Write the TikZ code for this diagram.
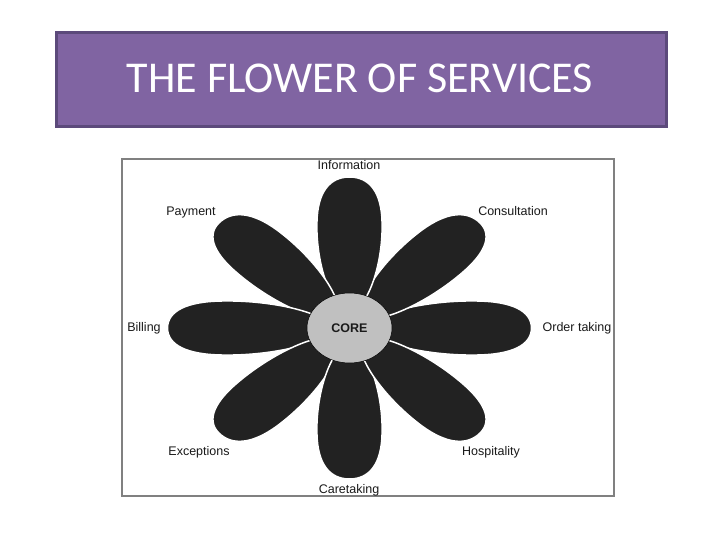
\documentclass[tikz,border=0pt]{standalone}
\usepackage{fontspec}
\setmainfont{Liberation Sans}
\newfontfamily\titlefont{Carlito}
\usetikzlibrary{shapes.geometric}
\definecolor{titlefill}{HTML}{8064A2}
\definecolor{titleedge}{HTML}{5C4A7B}
\definecolor{petalc}{HTML}{222222}
\definecolor{coregray}{HTML}{C0C0C0}
\definecolor{framec}{HTML}{808080}
\definecolor{labelc}{HTML}{1A1A1A}
\begin{document}
\begin{tikzpicture}[x=1pt,y=-1pt,
  lbl/.style={font=\fontsize{12.5}{14}\selectfont, text=labelc, anchor=base, inner sep=0pt},
  petalshape/.style={fill=petalc, draw=white, line width=1.5pt}]
\useasboundingbox (0,0) rectangle (720,540);
\fill[white] (0,0) rectangle (720,540);
% title
\node[draw=titleedge, line width=3pt, fill=titlefill, minimum width=610pt, minimum height=94pt, anchor=north west, inner sep=0pt] (title) at (54.5,31.5) {};
\node[text=white, font=\titlefont\fontsize{44}{50}\selectfont, inner sep=0pt] (titletext) at (360,78) {THE FLOWER OF SERVICES};
% frame
\draw[framec, line width=1.5pt] (122,159) rectangle (614,496);
% petals
\begin{scope}[shift={(349.5,328)}, xscale=1.205]
\foreach \a in {0,45,...,315} {
  \begin{scope}[rotate=\a]
    \filldraw[petalshape] (14,0) .. controls (22,-17) and (68,-28) .. (106,-27)
      .. controls (135,-26.5) and (151,-17) .. (151,0)
      .. controls (151,17) and (135,26.5) .. (106,27)
      .. controls (68,28) and (22,17) .. (14,0) -- cycle;
  \end{scope}
}
\end{scope}
% core
\node[ellipse, minimum width=85pt, minimum height=70pt, fill=coregray, draw=black, line width=0.5pt, inner sep=0pt, font=\bfseries\fontsize{12.5}{14}\selectfont, text=labelc] (core) at (349.5,328) {CORE};
% labels
\node[lbl] (information) at (349,169.5) {Information};
\node[lbl] (payment) at (191,215.5) {Payment};
\node[lbl] (consultation) at (513,215.5) {Consultation};
\node[lbl] (billing) at (144,331.5) {Billing};
\node[lbl] (ordertaking) at (577,331.5) {Order taking};
\node[lbl] (exceptions) at (199,455.5) {Exceptions};
\node[lbl] (hospitality) at (491,455.5) {Hospitality};
\node[lbl] (caretaking) at (349,493.5) {Caretaking};
\end{tikzpicture}
\end{document}
